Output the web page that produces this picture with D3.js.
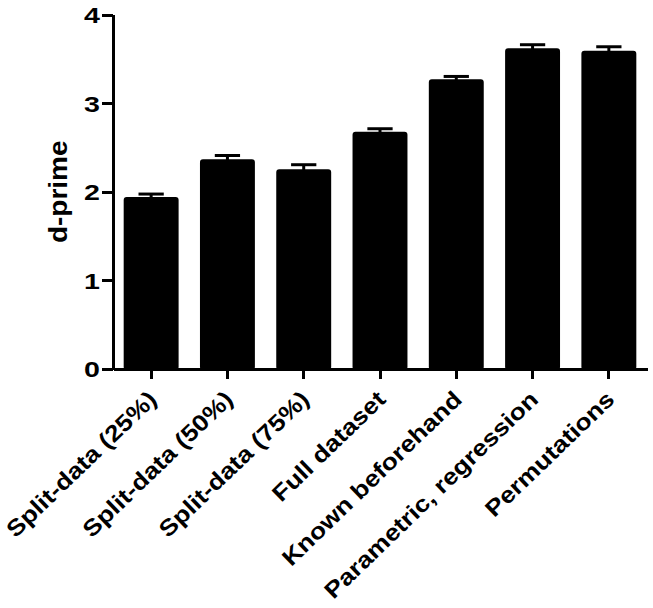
<!DOCTYPE html>
<html>
<head>
<meta charset="utf-8">
<script src="https://cdn.jsdelivr.net/npm/d3@7"></script>
<style>
  html, body { margin: 0; padding: 0; background: #fff; }
  text { font-family: "Liberation Sans", Arial, sans-serif; font-weight: bold; fill: #000; }
</style>
</head>
<body>
<svg></svg>
<script>
const width = 653;
const height = 608;

// values
const categories = ["Split-data (25%)", "Split-data (50%)", "Split-data (75%)", "Full dataset",
                    "Known beforehand", "Parametric, regression", "Permutations"];
const means = [1.93, 2.355, 2.243, 2.667, 3.258, 3.608, 3.581];
const errors = [0.044, 0.054, 0.062, 0.044, 0.043, 0.051, 0.055];
const yTicks = [0, 1, 2, 3, 4];

const margin = {top: 14.5, right: 6, bottom: 239, left: 113};
const plotW = width - margin.left - margin.right;
const plotH = height - margin.top - margin.bottom;

const svg = d3.select("svg")
    .attr("width", width)
    .attr("height", height);

const g = svg.append("g")
    .attr("transform", "translate(" + margin.left + "," + margin.top + ")");

const x = d3.scaleBand()
    .domain(categories)
    .range([0, plotW])
    .paddingInner(0.28)
    .paddingOuter(0.14);

const y = d3.scaleLinear()
    .domain([0, 4])
    .range([plotH, 0]);

const data = categories.map((c, i) => ({name: c, mean: means[i], err: errors[i]}));

// error bars (only the upper half shows above the bar)
const capW = x.bandwidth() * 0.46;
const eb = g.append("g");
eb.selectAll("line.stem")
  .data(data)
  .enter()
  .append("line")
    .attr("x1", d => x(d.name) + x.bandwidth() / 2)
    .attr("x2", d => x(d.name) + x.bandwidth() / 2)
    .attr("y1", d => y(d.mean))
    .attr("y2", d => y(d.mean + d.err))
    .attr("stroke", "#000")
    .attr("stroke-width", 3);
eb.selectAll("line.cap")
  .data(data)
  .enter()
  .append("line")
    .attr("x1", d => x(d.name) + x.bandwidth() / 2 - capW / 2)
    .attr("x2", d => x(d.name) + x.bandwidth() / 2 + capW / 2)
    .attr("y1", d => y(d.mean + d.err))
    .attr("y2", d => y(d.mean + d.err))
    .attr("stroke", "#000")
    .attr("stroke-width", 3);

// bars
g.append("g")
  .selectAll("rect")
  .data(data)
  .enter()
  .append("rect")
    .attr("x", d => x(d.name) + 1)
    .attr("y", d => y(d.mean))
    .attr("width", x.bandwidth() - 2)
    .attr("height", d => y(0) - y(d.mean))
    .attr("rx", 2)
    .attr("fill", "#000")
    .attr("stroke", "#000")
    .attr("stroke-width", 2);

// y axis
const yAxis = g.append("g")
    .call(d3.axisLeft(y).tickValues(yTicks).tickFormat(d3.format("d")).tickSize(11).tickSizeOuter(0));
yAxis.selectAll("path, line").attr("stroke", "#000").attr("stroke-width", 3);
yAxis.selectAll("text")
    .attr("x", 0)
    .attr("dy", "0.36em")
    .attr("transform", "translate(-13,0) scale(1.3,1)")
    .style("font-size", "22px");

// x axis
const xAxis = g.append("g")
    .attr("transform", "translate(0," + plotH + ")")
    .call(d3.axisBottom(x).tickSize(10).tickSizeOuter(0));
xAxis.selectAll("path, line").attr("stroke", "#000").attr("stroke-width", 3);
xAxis.selectAll("text")
    .attr("x", 0)
    .attr("y", 0)
    .attr("dy", 0)
    .attr("text-anchor", "end")
    .attr("transform", "translate(7,32) rotate(-44) scale(1.15,1)")
    .style("font-size", "23px");

svg.selectAll(".domain, .tick line").attr("shape-rendering", "crispEdges");

// y title
svg.append("text")
    .attr("text-anchor", "middle")
    .attr("transform", "translate(67," + (margin.top + plotH / 2) + ") rotate(-90) scale(1.12,1)")
    .style("font-size", "25px")
    .text("d-prime");
</script>
</body>
</html>
